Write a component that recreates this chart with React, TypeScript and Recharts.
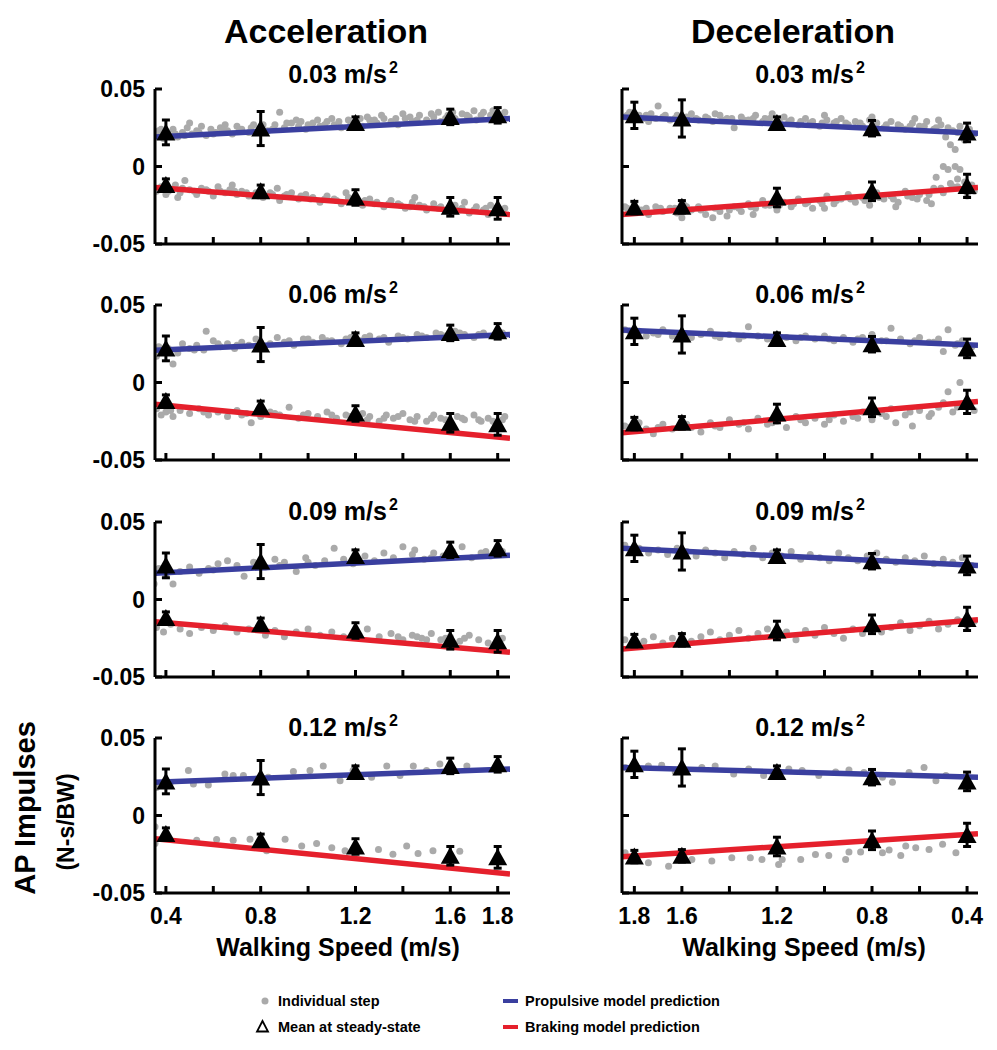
import React from 'react'
import { ComposedChart, Scatter, Line, XAxis, YAxis, ErrorBar } from 'recharts'

type Pt = [number, number]

// speeds (m/s) where the steady-state means were taken
const speeds = [0.4, 0.8, 1.2, 1.6, 1.8]
const speedTicks = [0.4, 0.6, 0.8, 1.0, 1.2, 1.4, 1.6, 1.8]
const speedLabels = [0.4, 0.8, 1.2, 1.6, 1.8]
const impulseTicks = [-0.05, 0, 0.05]
const speedDomain = [0.354, 1.852]
const lineSpeeds = [0.354, 1.852]
const accelLevels = ['0.03', '0.06', '0.09', '0.12']

// means at steady state (same subjects for every panel of a column)
const accMeanProp = [0.022, 0.0245, 0.028, 0.032, 0.033]
const accErrProp = [0.008, 0.011, 0.004, 0.005, 0.005]
const accMeanBrake = [-0.012, -0.016, -0.02, -0.026, -0.027]
const accErrBrake = [0.004, 0.004, 0.005, 0.006, 0.007]
const decMeanProp = [0.022, 0.0247, 0.028, 0.031, 0.033]
const decErrProp = [0.006, 0.005, 0.004, 0.012, 0.0085]
const decMeanBrake = [-0.0125, -0.016, -0.02, -0.026, -0.0265]
const decErrBrake = [0.0075, 0.006, 0.006, 0.004, 0.004]

// model predictions, value at lineSpeeds
const accLineProp = [[0.019, 0.031], [0.0208, 0.031], [0.017, 0.0285], [0.0214, 0.03]]
const accLineBrake = [[-0.0135, -0.031], [-0.014, -0.036], [-0.0143, -0.034], [-0.015, -0.0377]]
const decLineProp = [[0.0214, 0.032], [0.024, 0.0338], [0.022, 0.033], [0.0247, 0.031]]
const decLineBrake = [[-0.0136, -0.031], [-0.0123, -0.0325], [-0.013, -0.032], [-0.0117, -0.0266]]

// individual steps
const acc03Prop: Pt[] = [
  [0.36, 0.02], [0.37, 0.023], [0.39, 0.018], [0.41, 0.021], [0.43, 0.024], [0.45, 0.019], [0.47, 0.022], [0.49, 0.025],
  [0.51, 0.021], [0.53, 0.023], [0.55, 0.026], [0.57, 0.02], [0.59, 0.024], [0.61, 0.022], [0.63, 0.025], [0.66, 0.023],
  [0.68, 0.021], [0.7, 0.026], [0.72, 0.024], [0.75, 0.022], [0.77, 0.027], [0.8, 0.025], [0.83, 0.023], [0.86, 0.027],
  [0.88, 0.035], [0.9, 0.025], [0.93, 0.028], [0.96, 0.026], [0.99, 0.024], [1.02, 0.028], [1.05, 0.026], [1.08, 0.029],
  [1.11, 0.027], [1.14, 0.025], [1.17, 0.03], [1.2, 0.028], [1.23, 0.026], [1.26, 0.03], [1.29, 0.028], [1.32, 0.031],
  [1.35, 0.029], [1.38, 0.027], [1.41, 0.031], [1.44, 0.029], [1.47, 0.033], [1.5, 0.03], [1.53, 0.032], [1.56, 0.029],
  [1.59, 0.033], [1.62, 0.031], [1.65, 0.034], [1.68, 0.032], [1.71, 0.03], [1.74, 0.035], [1.77, 0.033], [1.8, 0.031],
  [1.83, 0.035], [0.5, 0.028], [0.65, 0.027], [0.95, 0.03], [1.1, 0.031], [1.25, 0.032], [1.4, 0.034], [1.55, 0.035],
  [1.7, 0.036], [1.78, 0.036], [0.38, 0.024], [0.44, 0.021], [0.48, 0.02], [0.54, 0.022], [0.6, 0.021], [0.64, 0.024],
  [0.71, 0.023], [0.76, 0.025], [0.81, 0.027], [0.85, 0.024], [0.91, 0.028], [0.97, 0.029], [1.0, 0.027], [1.04, 0.03],
  [1.07, 0.027], [1.13, 0.029], [1.18, 0.027], [1.22, 0.031], [1.28, 0.03], [1.31, 0.033], [1.37, 0.031], [1.43, 0.032],
  [1.46, 0.03], [1.52, 0.034], [1.58, 0.031], [1.61, 0.035], [1.67, 0.033], [1.73, 0.033], [1.79, 0.034], [1.82, 0.032],
]
const acc03Brake: Pt[] = [
  [0.36, -0.016], [0.38, -0.013], [0.4, -0.018], [0.42, -0.015], [0.44, -0.012], [0.46, -0.017], [0.48, -0.009], [0.5, -0.015],
  [0.53, -0.018], [0.55, -0.014], [0.58, -0.016], [0.6, -0.019], [0.62, -0.013], [0.65, -0.017], [0.67, -0.015], [0.7, -0.018],
  [0.72, -0.016], [0.75, -0.019], [0.78, -0.017], [0.81, -0.02], [0.84, -0.017], [0.87, -0.014], [0.9, -0.019], [0.93, -0.017],
  [0.96, -0.021], [0.99, -0.018], [1.02, -0.02], [1.05, -0.023], [1.08, -0.019], [1.11, -0.021], [1.14, -0.024], [1.17, -0.02],
  [1.2, -0.022], [1.23, -0.025], [1.26, -0.021], [1.29, -0.023], [1.32, -0.026], [1.35, -0.022], [1.38, -0.024], [1.41, -0.027],
  [1.44, -0.023], [1.47, -0.025], [1.5, -0.028], [1.53, -0.024], [1.56, -0.026], [1.59, -0.029], [1.62, -0.025], [1.65, -0.027],
  [1.68, -0.03], [1.71, -0.026], [1.74, -0.028], [1.77, -0.025], [1.8, -0.029], [1.83, -0.027], [0.45, -0.02], [0.68, -0.012],
  [0.88, -0.022], [1.16, -0.017], [1.45, -0.02], [1.66, -0.023], [1.76, -0.031], [0.37, -0.014], [0.41, -0.016],
  [0.47, -0.014], [0.52, -0.016], [0.57, -0.015], [0.63, -0.016], [0.69, -0.016], [0.74, -0.017], [0.79, -0.019],
  [0.85, -0.018], [0.91, -0.018], [0.97, -0.019], [1.01, -0.021], [1.07, -0.021], [1.12, -0.022], [1.19, -0.023],
  [1.24, -0.022], [1.28, -0.024], [1.34, -0.024], [1.39, -0.025], [1.43, -0.026], [1.49, -0.026], [1.55, -0.027],
  [1.6, -0.027], [1.64, -0.028], [1.7, -0.028], [1.75, -0.027], [1.79, -0.027], [1.82, -0.029],
]
const dec03Prop: Pt[] = [
  [1.84, 0.032], [1.82, 0.035], [1.8, 0.03], [1.78, 0.033], [1.76, 0.031], [1.73, 0.034], [1.7, 0.039], [1.68, 0.032],
  [1.65, 0.03], [1.62, 0.033], [1.59, 0.031], [1.56, 0.034], [1.53, 0.03], [1.5, 0.032], [1.47, 0.029], [1.44, 0.033],
  [1.41, 0.031], [1.38, 0.025], [1.35, 0.032], [1.32, 0.03], [1.29, 0.033], [1.26, 0.029], [1.23, 0.031], [1.2, 0.028],
  [1.17, 0.032], [1.14, 0.03], [1.11, 0.027], [1.08, 0.031], [1.05, 0.029], [1.02, 0.026], [0.99, 0.03], [0.96, 0.028],
  [0.93, 0.031], [0.9, 0.027], [0.87, 0.029], [0.84, 0.026], [0.81, 0.03], [0.78, 0.028], [0.75, 0.025], [0.72, 0.029],
  [0.69, 0.027], [0.66, 0.024], [0.63, 0.028], [0.6, 0.026], [0.57, 0.029], [0.54, 0.024], [0.51, 0.027], [0.49, 0.019],
  [0.47, 0.014], [0.46, 0.023], [0.45, 0.011], [0.43, 0.026], [0.41, 0.017], [0.39, 0.024], [0.37, 0.021], [1.74, 0.029],
  [1.46, 0.034], [1.22, 0.034], [1.0, 0.033], [0.8, 0.032], [0.62, 0.031], [0.52, 0.03], [1.83, 0.033], [1.79, 0.031],
  [1.75, 0.033], [1.71, 0.031], [1.67, 0.033], [1.63, 0.031], [1.58, 0.032], [1.54, 0.031], [1.49, 0.031], [1.43, 0.03],
  [1.39, 0.031], [1.34, 0.03], [1.3, 0.031], [1.25, 0.031], [1.19, 0.03], [1.15, 0.029], [1.1, 0.029], [1.06, 0.028],
  [1.01, 0.028], [0.95, 0.029], [0.91, 0.028], [0.85, 0.028], [0.79, 0.027], [0.74, 0.027], [0.68, 0.026], [0.64, 0.026],
  [0.58, 0.026], [0.53, 0.025], [0.48, 0.025], [0.44, 0.022],
]
const dec03Brake: Pt[] = [
  [1.84, -0.026], [1.82, -0.029], [1.8, -0.024], [1.77, -0.028], [1.74, -0.031], [1.71, -0.026], [1.68, -0.029], [1.65, -0.027],
  [1.62, -0.03], [1.59, -0.025], [1.56, -0.028], [1.53, -0.026], [1.5, -0.031], [1.47, -0.033], [1.44, -0.029], [1.41, -0.032],
  [1.38, -0.026], [1.35, -0.029], [1.32, -0.024], [1.29, -0.027], [1.26, -0.022], [1.23, -0.025], [1.2, -0.028], [1.17, -0.023],
  [1.14, -0.026], [1.11, -0.021], [1.08, -0.024], [1.05, -0.027], [1.02, -0.022], [0.99, -0.019], [0.96, -0.024], [0.93, -0.021],
  [0.9, -0.018], [0.87, -0.023], [0.84, -0.02], [0.81, -0.025], [0.78, -0.017], [0.75, -0.021], [0.72, -0.019], [0.69, -0.023],
  [0.66, -0.016], [0.63, -0.02], [0.6, -0.018], [0.57, -0.022], [0.54, -0.014], [0.53, -0.007], [0.5, 0.0], [0.48, -0.002],
  [0.46, -0.013], [0.45, 0.0], [0.44, -0.008], [0.43, -0.002], [0.42, -0.015], [0.4, -0.019], [0.38, -0.012], [0.37, -0.016],
  [1.6, -0.033], [1.3, -0.031], [1.0, -0.027], [0.7, -0.026], [0.55, -0.024], [0.5, -0.017], [1.83, -0.027], [1.79, -0.027],
  [1.75, -0.027], [1.69, -0.027], [1.63, -0.027], [1.58, -0.026], [1.52, -0.028], [1.46, -0.027], [1.4, -0.028],
  [1.36, -0.027], [1.31, -0.026], [1.25, -0.025], [1.19, -0.025], [1.13, -0.024], [1.07, -0.023], [1.01, -0.024],
  [0.95, -0.022], [0.89, -0.021], [0.83, -0.022], [0.77, -0.02], [0.71, -0.021], [0.65, -0.019], [0.61, -0.021],
  [0.56, -0.018], [0.51, -0.014], [0.47, -0.011], [0.44, -0.013], [0.41, -0.01], [0.39, -0.016],
]
const acc06Prop: Pt[] = [
  [0.36, 0.017], [0.37, 0.023], [0.39, 0.02], [0.43, 0.012], [0.45, 0.019], [0.47, 0.025], [0.5, 0.022], [0.53, 0.024],
  [0.56, 0.021], [0.57, 0.033], [0.6, 0.027], [0.63, 0.023], [0.66, 0.025], [0.69, 0.022], [0.72, 0.026], [0.75, 0.024],
  [0.78, 0.028], [0.84, 0.025], [0.87, 0.029], [0.9, 0.026], [0.94, 0.024], [0.98, 0.028], [1.02, 0.026], [1.06, 0.029],
  [1.1, 0.027], [1.14, 0.025], [1.18, 0.029], [1.22, 0.027], [1.26, 0.03], [1.3, 0.028], [1.34, 0.026], [1.38, 0.03],
  [1.42, 0.028], [1.46, 0.031], [1.5, 0.029], [1.54, 0.032], [1.58, 0.03], [1.62, 0.033], [1.66, 0.031], [1.7, 0.029],
  [1.74, 0.032], [1.78, 0.03], [1.82, 0.032], [0.41, 0.022], [0.52, 0.021], [0.62, 0.025], [0.7, 0.024], [0.8, 0.026],
  [0.92, 0.027], [1.0, 0.028], [1.08, 0.027], [1.16, 0.028], [1.24, 0.029], [1.32, 0.029], [1.4, 0.029], [1.48, 0.03],
  [1.56, 0.031], [1.64, 0.032], [1.72, 0.031], [1.8, 0.033],
]
const acc06Brake: Pt[] = [
  [0.36, -0.017], [0.38, -0.021], [0.4, -0.019], [0.43, -0.022], [0.46, -0.018], [0.5, -0.02], [0.54, -0.017], [0.58, -0.021],
  [0.62, -0.019], [0.66, -0.022], [0.7, -0.018], [0.74, -0.02], [0.76, -0.026], [0.8, -0.022], [0.84, -0.019], [0.88, -0.021],
  [0.92, -0.016], [0.96, -0.023], [1.0, -0.02], [1.04, -0.022], [1.08, -0.019], [1.12, -0.023], [1.16, -0.021], [1.2, -0.024],
  [1.23, -0.02], [1.26, -0.022], [1.3, -0.025], [1.33, -0.021], [1.36, -0.023], [1.4, -0.02], [1.43, -0.024], [1.46, -0.022],
  [1.5, -0.025], [1.53, -0.021], [1.56, -0.023], [1.6, -0.026], [1.63, -0.022], [1.66, -0.024], [1.7, -0.021], [1.73, -0.025],
  [1.76, -0.023], [1.8, -0.026], [1.83, -0.022], [0.42, -0.018], [0.56, -0.019], [0.72, -0.021], [0.86, -0.02],
  [0.98, -0.021], [1.1, -0.021], [1.18, -0.022], [1.25, -0.024], [1.32, -0.023], [1.38, -0.022], [1.45, -0.025],
  [1.52, -0.023], [1.58, -0.024], [1.65, -0.023], [1.72, -0.024], [1.78, -0.025], [1.82, -0.024],
]
const dec06Prop: Pt[] = [
  [1.84, 0.034], [1.81, 0.031], [1.78, 0.033], [1.75, 0.03], [1.72, 0.032], [1.68, 0.034], [1.64, 0.03], [1.6, 0.032],
  [1.56, 0.029], [1.52, 0.031], [1.48, 0.033], [1.44, 0.029], [1.4, 0.031], [1.36, 0.028], [1.32, 0.036], [1.28, 0.03],
  [1.24, 0.028], [1.2, 0.031], [1.16, 0.029], [1.12, 0.027], [1.08, 0.03], [1.04, 0.028], [1.0, 0.03], [0.96, 0.027],
  [0.92, 0.029], [0.88, 0.026], [0.84, 0.029], [0.8, 0.031], [0.76, 0.027], [0.72, 0.035], [0.68, 0.028], [0.64, 0.025],
  [0.6, 0.029], [0.56, 0.026], [0.52, 0.028], [0.5, 0.02], [0.48, 0.034], [0.45, 0.024], [0.42, 0.027], [0.38, 0.023],
  [1.82, 0.033], [1.7, 0.031], [1.58, 0.031], [1.46, 0.03], [1.34, 0.03], [1.22, 0.029], [1.1, 0.029], [0.98, 0.028],
  [0.86, 0.028], [0.74, 0.027], [0.62, 0.027], [0.54, 0.026], [0.44, 0.025],
]
const dec06Brake: Pt[] = [
  [1.84, -0.028], [1.81, -0.031], [1.78, -0.026], [1.75, -0.03], [1.72, -0.033], [1.68, -0.027], [1.64, -0.03], [1.6, -0.025],
  [1.56, -0.029], [1.52, -0.032], [1.48, -0.026], [1.44, -0.029], [1.4, -0.024], [1.36, -0.027], [1.32, -0.03], [1.28, -0.023],
  [1.24, -0.027], [1.2, -0.025], [1.16, -0.029], [1.12, -0.022], [1.08, -0.026], [1.04, -0.023], [1.0, -0.027], [0.96, -0.021],
  [0.92, -0.025], [0.88, -0.022], [0.84, -0.019], [0.8, -0.024], [0.76, -0.02], [0.72, -0.017], [0.7, -0.026], [0.66, -0.021],
  [0.63, -0.028], [0.6, -0.018], [0.56, -0.022], [0.52, -0.016], [0.48, -0.006], [0.46, -0.019], [0.43, 0.0], [0.4, -0.014],
  [0.37, -0.018], [1.82, -0.029], [1.7, -0.029], [1.58, -0.027], [1.46, -0.028], [1.34, -0.026], [1.22, -0.026],
  [1.1, -0.024], [0.98, -0.024], [0.86, -0.023], [0.74, -0.022], [0.64, -0.019], [0.55, -0.02], [0.5, -0.013], [0.44, -0.016],
]
const acc09Prop: Pt[] = [
  [0.35, 0.01], [0.37, 0.02], [0.4, 0.016], [0.43, 0.01], [0.46, 0.018], [0.5, 0.021], [0.54, 0.017], [0.58, 0.02],
  [0.62, 0.023], [0.66, 0.025], [0.7, 0.022], [0.73, 0.015], [0.77, 0.024], [0.82, 0.021], [0.86, 0.026], [0.9, 0.024],
  [0.95, 0.018], [0.99, 0.027], [1.03, 0.022], [1.07, 0.025], [1.11, 0.033], [1.15, 0.026], [1.19, 0.023], [1.24, 0.028],
  [1.28, 0.025], [1.32, 0.03], [1.36, 0.027], [1.4, 0.034], [1.44, 0.029], [1.45, 0.032], [1.49, 0.026], [1.53, 0.03],
  [1.57, 0.028], [1.61, 0.031], [1.65, 0.034], [1.69, 0.027], [1.73, 0.03], [1.77, 0.028], [1.82, 0.031], [0.6, 0.019],
  [0.88, 0.022], [1.0, 0.024], [1.2, 0.026], [1.52, 0.027], [1.75, 0.031],
]
const acc09Brake: Pt[] = [
  [0.36, -0.018], [0.39, -0.021], [0.42, -0.016], [0.46, -0.019], [0.5, -0.022], [0.55, -0.018], [0.6, -0.02], [0.65, -0.017],
  [0.7, -0.021], [0.75, -0.019], [0.82, -0.023], [0.86, -0.02], [0.9, -0.024], [0.95, -0.021], [1.0, -0.019], [1.05, -0.023],
  [1.1, -0.021], [1.15, -0.024], [1.2, -0.022], [1.25, -0.019], [1.3, -0.024], [1.35, -0.022], [1.4, -0.026], [1.44, -0.023],
  [1.48, -0.025], [1.52, -0.022], [1.56, -0.026], [1.6, -0.024], [1.64, -0.027], [1.68, -0.023], [1.72, -0.026], [1.76, -0.028],
  [1.82, -0.025], [1.38, -0.024], [1.46, -0.024], [1.5, -0.026], [1.58, -0.025], [1.66, -0.025],
]
const dec09Prop: Pt[] = [
  [1.84, 0.035], [1.81, 0.031], [1.78, 0.033], [1.74, 0.03], [1.7, 0.032], [1.66, 0.029], [1.62, 0.033], [1.58, 0.031],
  [1.54, 0.028], [1.5, 0.032], [1.46, 0.03], [1.42, 0.027], [1.38, 0.031], [1.34, 0.029], [1.3, 0.033], [1.26, 0.027],
  [1.22, 0.03], [1.18, 0.028], [1.14, 0.031], [1.1, 0.026], [1.06, 0.029], [1.02, 0.027], [0.98, 0.025], [0.94, 0.03],
  [0.9, 0.027], [0.86, 0.025], [0.82, 0.028], [0.78, 0.03], [0.74, 0.026], [0.7, 0.024], [0.66, 0.027], [0.62, 0.025],
  [0.58, 0.028], [0.54, 0.023], [0.5, 0.026], [0.46, 0.024], [0.42, 0.027], [0.38, 0.022],
]
const dec09Brake: Pt[] = [
  [1.84, -0.026], [1.8, -0.029], [1.76, -0.027], [1.72, -0.024], [1.68, -0.028], [1.64, -0.025], [1.6, -0.023], [1.56, -0.027],
  [1.52, -0.024], [1.48, -0.021], [1.44, -0.026], [1.4, -0.023], [1.36, -0.02], [1.32, -0.025], [1.28, -0.022], [1.24, -0.019],
  [1.2, -0.024], [1.16, -0.021], [1.12, -0.026], [1.08, -0.02], [1.04, -0.023], [1.0, -0.018], [0.96, -0.022], [0.92, -0.025],
  [0.88, -0.019], [0.84, -0.022], [0.8, -0.017], [0.76, -0.021], [0.72, -0.018], [0.68, -0.015], [0.64, -0.02], [0.6, -0.017],
  [0.56, -0.014], [0.52, -0.019], [0.48, -0.016], [0.44, -0.013], [0.4, -0.017], [0.37, -0.014],
]
const acc12Prop: Pt[] = [
  [0.36, 0.018], [0.417, 0.0203], [0.495, 0.029], [0.516, 0.0203], [0.579, 0.0197], [0.649, 0.0268], [0.684, 0.0258],
  [0.727, 0.0258], [0.832, 0.0247], [0.938, 0.0284], [1.008, 0.029], [1.064, 0.032], [1.135, 0.0225], [1.19, 0.029],
  [1.268, 0.0247], [1.332, 0.032], [1.388, 0.0258], [1.444, 0.032], [1.5, 0.029], [1.556, 0.0333], [1.598, 0.0303],
  [1.67, 0.032],
]
const acc12Brake: Pt[] = [
  [0.354, -0.0073], [0.354, -0.018], [0.53, -0.016], [0.614, -0.0155], [0.684, -0.016], [0.755, -0.0154], [0.825, -0.0228],
  [0.903, -0.0154], [0.973, -0.0197], [1.036, -0.018], [1.1, -0.0208], [1.156, -0.0228], [1.297, -0.022], [1.358, -0.025],
  [1.416, -0.0197], [1.464, -0.0245], [1.527, -0.0228], [1.64, -0.023],
]
const dec12Prop: Pt[] = [
  [1.839, 0.031], [1.741, 0.032], [1.685, 0.0325], [1.628, 0.028], [1.516, 0.031], [1.46, 0.032], [1.382, 0.0268],
  [1.319, 0.03], [1.256, 0.0258], [1.15, 0.03], [1.094, 0.029], [1.024, 0.0258], [0.953, 0.028], [0.897, 0.0293],
  [0.834, 0.0277], [0.756, 0.0247], [0.714, 0.0215], [0.644, 0.0277], [0.581, 0.031], [0.531, 0.0225], [0.489, 0.0258],
]
const dec12Brake: Pt[] = [
  [1.839, -0.024], [1.741, -0.0305], [1.656, -0.0327], [1.558, -0.0284], [1.474, -0.0294], [1.39, -0.0273], [1.312, -0.0273],
  [1.263, -0.0284], [1.193, -0.0316], [1.178, -0.0284], [1.1, -0.0284], [1.038, -0.0251], [0.982, -0.0258], [0.911, -0.0284],
  [0.897, -0.0236], [0.848, -0.0236], [0.756, -0.024], [0.728, -0.0223], [0.679, -0.0258], [0.658, -0.0197], [0.616, -0.0208],
  [0.56, -0.0219], [0.503, -0.0186], [0.447, -0.024],
]

const accSteps = [[acc03Prop, acc03Brake], [acc06Prop, acc06Brake], [acc09Prop, acc09Brake], [acc12Prop, acc12Brake]]
const decSteps = [[dec03Prop, dec03Brake], [dec06Prop, dec06Brake], [dec09Prop, dec09Brake], [dec12Prop, dec12Brake]]

const FONT = '"Liberation Sans", Arial, Helvetica, sans-serif'
const BLUE = '#3a3f9f'
const RED = '#e5202c'
const GRAY = '#aaaaaa'

const rowTops = [89, 305, 522, 738]
const titleBase = [83, 303, 520, 736]
const PLOT_H = 155
const cols = [
  { left: 155, width: 355, titleX: 343, reversed: false },
  { left: 622, width: 356, titleX: 810, reversed: true },
]

function XTick(props: any) {
  const { x, y, payload, showLabel } = props
  const v = payload.value
  const labelled = showLabel && speedLabels.some((s) => Math.abs(s - v) < 1e-9)
  return (
    <g>
      <line x1={x} x2={x} y1={y} y2={y - 7} stroke="#000" strokeWidth={3} />
      {labelled && (
        <text x={x} y={y + 31} textAnchor="middle" fontFamily={FONT} fontWeight="bold" fontSize={23} fill="#000">
          {v.toFixed(1)}
        </text>
      )}
    </g>
  )
}

function YTick(props: any) {
  const { x, y, payload, showLabel } = props
  return (
    <g>
      <line x1={x} x2={x + 7} y1={y} y2={y} stroke="#000" strokeWidth={3} />
      {showLabel && (
        <text x={x - 10} y={y + 8} textAnchor="end" fontFamily={FONT} fontWeight="bold" fontSize={23} fill="#000">
          {String(payload.value)}
        </text>
      )}
    </g>
  )
}

const Dot = (p: any) => <circle cx={p.cx} cy={p.cy} r={3.5} fill={GRAY} />
const Tri = (p: any) => (
  <polygon points={`${p.cx},${p.cy - 9} ${p.cx - 9.5},${p.cy + 8} ${p.cx + 9.5},${p.cy + 8}`} fill="#000" />
)

function Panel(props: any) {
  const { col, row, steps, propLine, brakeLine, meanProp, errProp, meanBrake, errBrake } = props
  const c = cols[col]
  const pts = (arr: Pt[]) => arr.map(([x, y]) => ({ x, y }))
  const line = (vals: number[]) => lineSpeeds.map((x, i) => ({ x, y: vals[i] }))
  const means = (m: number[], e: number[]) => speeds.map((x, i) => ({ x, y: m[i], err: e[i] }))
  const axisStyle = { stroke: '#000', strokeWidth: 3 }
  return (
    <div style={{ position: 'absolute', left: c.left - 70, top: rowTops[row] - 20 }}>
      <ComposedChart width={70 + c.width + 15} height={PLOT_H + 60} margin={{ top: 20, right: 15, bottom: 0, left: 0 }}>
        <XAxis
          type="number"
          dataKey="x"
          domain={speedDomain}
          allowDataOverflow
          reversed={c.reversed}
          ticks={speedTicks}
          interval={0}
          height={40}
          tickLine={false}
          tickSize={0}
          tickMargin={0}
          axisLine={axisStyle}
          tick={(p: any) => <XTick {...p} showLabel={row === 3} />}
        />
        <YAxis
          type="number"
          dataKey="y"
          domain={[-0.05, 0.05]}
          allowDataOverflow
          ticks={impulseTicks}
          interval={0}
          width={70}
          tickLine={false}
          tickSize={0}
          tickMargin={0}
          axisLine={axisStyle}
          tick={(p: any) => <YTick {...p} showLabel={col === 0} />}
        />
        <Scatter data={pts(steps[0])} dataKey="y" shape={Dot} isAnimationActive={false} zIndex={100} />
        <Scatter data={pts(steps[1])} dataKey="y" shape={Dot} isAnimationActive={false} zIndex={100} />
        <Line data={line(propLine)} dataKey="y" type="linear" stroke={BLUE} strokeWidth={5.5} dot={false} isAnimationActive={false} zIndex={200} />
        <Line data={line(brakeLine)} dataKey="y" type="linear" stroke={RED} strokeWidth={5.5} dot={false} isAnimationActive={false} zIndex={200} />
        <Scatter data={means(meanProp, errProp)} dataKey="y" shape={Tri} isAnimationActive={false} zIndex={300}>
          <ErrorBar dataKey="err" direction="y" width={4} stroke="#000" strokeWidth={3} isAnimationActive={false} zIndex={300} />
        </Scatter>
        <Scatter data={means(meanBrake, errBrake)} dataKey="y" shape={Tri} isAnimationActive={false} zIndex={300}>
          <ErrorBar dataKey="err" direction="y" width={4} stroke="#000" strokeWidth={3} isAnimationActive={false} zIndex={300} />
        </Scatter>
      </ComposedChart>
    </div>
  )
}

export default function App() {
  const txt = { fontFamily: FONT, fontWeight: 'bold' as const, fill: '#000' }
  return (
    <div style={{ position: 'absolute', left: 0, top: 0, width: 997, height: 1050, background: '#fff' }}>
      {accelLevels.map((_, r) => (
        <Panel
          key={'a' + r}
          col={0}
          row={r}
          steps={accSteps[r]}
          propLine={accLineProp[r]}
          brakeLine={accLineBrake[r]}
          meanProp={accMeanProp}
          errProp={accErrProp}
          meanBrake={accMeanBrake}
          errBrake={accErrBrake}
        />
      ))}
      {accelLevels.map((_, r) => (
        <Panel
          key={'d' + r}
          col={1}
          row={r}
          steps={decSteps[r]}
          propLine={decLineProp[r]}
          brakeLine={decLineBrake[r]}
          meanProp={decMeanProp}
          errProp={decErrProp}
          meanBrake={decMeanBrake}
          errBrake={decErrBrake}
        />
      ))}
      <svg width={997} height={1050} style={{ position: 'absolute', left: 0, top: 0, pointerEvents: 'none' }}>
        <text x={326} y={43} textAnchor="middle" fontSize={34} {...txt}>Acceleration</text>
        <text x={793} y={43} textAnchor="middle" fontSize={34} {...txt}>Deceleration</text>
        {accelLevels.map((lvl, r) =>
          cols.map((c, ci) => (
            <text key={r + '-' + ci} x={c.titleX} y={titleBase[r]} textAnchor="middle" fontSize={25} {...txt}>
              {lvl} m/s
              <tspan dx={2} dy={-10} fontSize={16}>2</tspan>
            </text>
          ))
        )}
        <text transform="translate(35,808) rotate(-90)" textAnchor="middle" fontSize={29} {...txt}>AP Impulses</text>
        <text transform="translate(74,822) rotate(-90)" textAnchor="middle" fontSize={23} {...txt}>(N-s/BW)</text>
        <text x={338} y={956} textAnchor="middle" fontSize={25} {...txt}>Walking Speed (m/s)</text>
        <text x={804} y={956} textAnchor="middle" fontSize={25} {...txt}>Walking Speed (m/s)</text>

        <circle cx={265} cy={1001} r={3.5} fill={GRAY} />
        <text x={278} y={1006} fontSize={14.5} {...txt}>Individual step</text>
        <polygon points="262.5,1021 257,1031.5 268,1031.5" fill="none" stroke="#000" strokeWidth={1.8} />
        <text x={278} y={1032} fontSize={14.5} {...txt}>Mean at steady-state</text>
        <rect x={503} y={999} width={15} height={4} fill={BLUE} />
        <text x={525} y={1006} fontSize={14.5} {...txt}>Propulsive model prediction</text>
        <rect x={503} y={1025} width={15} height={4} fill={RED} />
        <text x={525} y={1032} fontSize={14.5} {...txt}>Braking model prediction</text>
      </svg>
    </div>
  )
}
